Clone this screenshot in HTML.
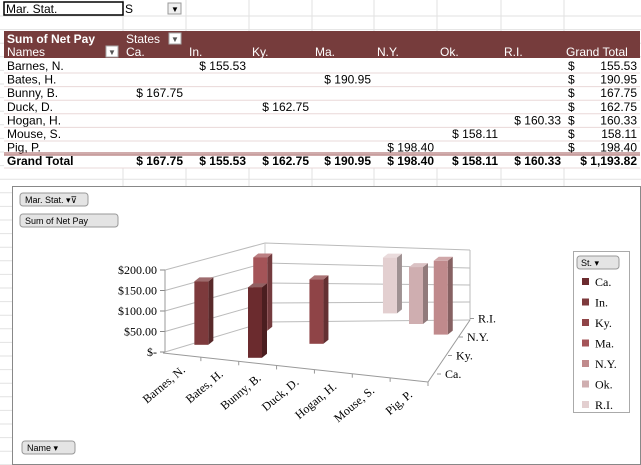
<!DOCTYPE html>
<html><head><meta charset="utf-8"><style>
body{margin:0;background:#fff}
svg{display:block;font-family:"Liberation Sans",Arial,sans-serif}
</style></head><body>
<svg id="s" width="641" height="465" viewBox="0 0 641 465">
<g id="grid"></g>
<g id="tbl"></g>
<g id="chart"></g>
</svg>
<script>
const names=["Barnes, N.","Bates, H.","Bunny, B.","Duck, D.","Hogan, H.","Mouse, S.","Pig, P."];
const states=["Ca.","In.","Ky.","Ma.","N.Y.","Ok.","R.I."];
const stateOfName=[1,3,0,2,6,5,4];
const pay=[155.53,190.95,167.75,162.75,160.33,158.11,198.40];
const stateTotals=[167.75,155.53,162.75,190.95,198.40,158.11,160.33];
const grandTotal="1,193.82";
const yTicks=[0,50,100,150,200];
const yTickLabels=["$-","$50.00","$100.00","$150.00","$200.00"];
const depthLabels=["Ca.","Ky.","N.Y.","R.I."];
const colors=["#6b2b2e","#7d3a3c","#8f4447","#a45458","#c08a8c","#cfaeb0","#e3cfd0"];

const NS="http://www.w3.org/2000/svg";
function el(t,a,p,txt){const e=document.createElementNS(NS,t);for(const k in a)e.setAttribute(k,a[k]);if(txt!==undefined)e.textContent=txt;p.appendChild(e);return e;}
const G=document.getElementById('grid'),T=document.getElementById('tbl'),C=document.getElementById('chart');
const colX=[5,123,186,249,312,374,437,501,564,641];
for(let y=16;y<465;y+=13.6){const l=el('line',{x1:0,y1:y,x2:641,y2:y,stroke:'#e2e2e2'},G);}
colX.slice(1,9).forEach(x=>{const l=el('line',{x1:x,y1:0,x2:x,y2:465,stroke:'#e2e2e2'},G);});
let r=el('rect',{x:4,y:58,width:637,height:110,fill:'#fff'},T);
r=el('rect',{x:4,y:2,width:119,height:13,fill:'#fff',stroke:'#000','stroke-width':1.5},T);
el('text',{x:6,y:13,'font-size':12},T,'Mar. Stat.');
el('text',{x:125,y:13,'font-size':12},T,'S');
r=el('rect',{x:168,y:3,width:13,height:11,fill:'#f0f0f0',stroke:'#999'},T);
el('text',{x:171,y:12,'font-size':8},T,'▼');
r=el('rect',{x:4,y:31,width:636,height:27,fill:'#763c3c'},T);
el('text',{x:7,y:43,'font-size':12,'font-weight':'bold',fill:'#fff'},T,'Sum of Net Pay');
el('text',{x:126,y:43,'font-size':12,fill:'#fff'},T,'States');
[[169,33],[106,46]].forEach(p=>{const b=el('rect',{x:p[0],y:p[1],width:12,height:11,fill:'#fff',stroke:'#aaa'},T);el('text',{x:p[0]+2,y:p[1]+9,'font-size':8,fill:'#555'},T,'▼');});
el('text',{x:7,y:56,'font-size':12,fill:'#fff'},T,'Names');
states.forEach((s,j)=>el('text',{x:colX[j+1]+3,y:56,'font-size':12,fill:'#fff'},T,s));
el('text',{x:566,y:56,'font-size':12,fill:'#fff'},T,'Grand Total');
names.forEach((n,i)=>{const y=70+i*13.6;
 el('text',{x:7,y:y,'font-size':12},T,n);
 const j=stateOfName[i];
 el('text',{x:colX[j+2]-3,y:y,'font-size':12,'text-anchor':'end'},T,'$ '+pay[i].toFixed(2));
 el('text',{x:568,y:y,'font-size':12},T,'$');
 el('text',{x:637,y:y,'font-size':12,'text-anchor':'end'},T,pay[i].toFixed(2));
 el('line',{x1:4,y1:y+3,x2:640,y2:y+3,stroke:'#ead8d8'},T);});
el('line',{x1:4,y1:153,x2:640,y2:153,stroke:'#a05a5a','stroke-width':1},T);
el('line',{x1:4,y1:155,x2:640,y2:155,stroke:'#a05a5a','stroke-width':1},T);
el('text',{x:7,y:165,'font-size':12,'font-weight':'bold'},T,'Grand Total');
stateTotals.forEach((v,j)=>el('text',{x:colX[j+2]-3,y:165,'font-size':12,'font-weight':'bold','text-anchor':'end'},T,'$ '+v.toFixed(2)));
el('text',{x:637,y:165,'font-size':12,'font-weight':'bold','text-anchor':'end'},T,'$ '+grandTotal);
el('line',{x1:4,y1:168,x2:640,y2:168,stroke:'#ead8d8'},T);

r=el('rect',{x:12.5,y:186.5,width:628,height:278,fill:'#fff',stroke:'#888'},C);
function btn(x,y,w,label,name){const g=el('g',{},C);
 el('rect',{x:x,y:y,width:w,height:13,rx:3,fill:'#e4e4e4',stroke:'#999'},g);el('text',{x:x+5,y:y+10,'font-size':9},g,label);return g;}
btn(20,193,68,'Mar. Stat.  ▾⊽','mar-stat-field-button');
btn(20,214,98,'Sum of Net Pay','sum-field-button');
btn(22,441,53,'Name  ▾','name-field-button');
const fl=[165,352],frontStep=-20.5;
function yFront(v){return fl[1]+v/50*frontStep;}
const gl=[[165,0,265,322,470,320],[165,50,265,303,470,302],[165,100,265,283,470,285],[165,150,265,263,470,268],[165,200,265,243,470,250]];
yTicks.forEach((v,k)=>{const g=gl[k];const y=yFront(v);
 el('polyline',{points:`${g[0]},${y} ${g[2]},${g[3]} ${g[4]},${g[5]}`,fill:'none',stroke:'#bbb'},C);
 el('line',{x1:g[0]-5,y1:y,x2:g[0],y2:y,stroke:'#888'},C);
 const t=el('text',{x:g[0]-8,y:y+4,'font-size':12,'text-anchor':'end','font-family':'"Liberation Serif",serif'},C,yTickLabels[k]);
 });
el('line',{x1:165,y1:352,x2:165,y2:270,stroke:'#999'},C);
el('line',{x1:470,y1:320,x2:470,y2:250,stroke:'#bbb'},C);
el('line',{x1:265,y1:322,x2:265,y2:243,stroke:'#ccc'},C);
el('polyline',{points:'163,353 428,382 470,320',fill:'none',stroke:'#999'},C);
function proj(i,s){return [187+34*i+15*s-0.64*s*s, 353+2.4*i-8.2*s];}
names.forEach((n,i)=>{const x=163+(428-163)*(i+1)/7,y=353+29*(i+1)/7;
 el('line',{x1:x,y1:y,x2:x,y2:y+4,stroke:'#999'},C);
 const cx=163+(428-163)*(i+0.5)/7+4,cy=353+29*(i+0.5)/7+16;
 const t=el('text',{x:cx,y:cy,'font-size':12,'text-anchor':'end','font-family':'"Liberation Serif",serif',transform:`rotate(-40 ${cx} ${cy})`},C,n);
 });
depthLabels.forEach((d,k)=>{const x=445+k*11,y=378-k*18.5;
 el('line',{x1:x-8,y1:y-4,x2:x-4,y2:y-4,stroke:'#999'},C);
 const t=el('text',{x:x,y:y,'font-size':12,'font-family':'"Liberation Serif",serif'},C,d);
 });
const order=names.map((n,i)=>i).sort((a,b)=>stateOfName[b]-stateOfName[a]);
function shade(hex,f){const n=parseInt(hex.slice(1),16);let c=[n>>16,(n>>8)&255,n&255].map(v=>Math.max(0,Math.min(255,Math.round(f>1?v+(255-v)*(f-1):v*f))));return `rgb(${c})`;}
order.forEach(i=>{const s=stateOfName[i];const p=proj(i,s);const sc=0.42-0.012*s;const h=pay[i]*sc;
 const x0=p[0]-7,x1=p[0]+7,yb=p[1],yt=p[1]-h,dx=5,dy=-4,col=colors[s];
 const g=el('g',{},C);
 el('polygon',{points:`${x1},${yt} ${x1+dx},${yt+dy} ${x1+dx},${yb+dy} ${x1},${yb}`,fill:shade(col,0.7)},g);
 el('polygon',{points:`${x0},${yt} ${x0+dx},${yt+dy} ${x1+dx},${yt+dy} ${x1},${yt}`,fill:shade(col,1.25)},g);
 el('rect',{x:x0,y:yt,width:14,height:h,fill:col},g);});
const L=el('g',{},C);
el('rect',{x:573.5,y:251.5,width:56,height:161,fill:'#fff',stroke:'#aaa'},L);
const lb=el('g',{},L);
el('rect',{x:577,y:256,width:42,height:13,rx:3,fill:'#e4e4e4',stroke:'#999'},lb);el('text',{x:581,y:266,'font-size':9},lb,'St.    ▾');
states.forEach((s,k)=>{const y=282+k*20.5;const g=el('g',{},L);
 el('rect',{x:582,y:y-4,width:7,height:7,fill:colors[k]},g);
 el('text',{x:595,y:y+4,'font-size':12,'font-family':'"Liberation Serif",serif'},g,s);});
</script>
</body></html>
